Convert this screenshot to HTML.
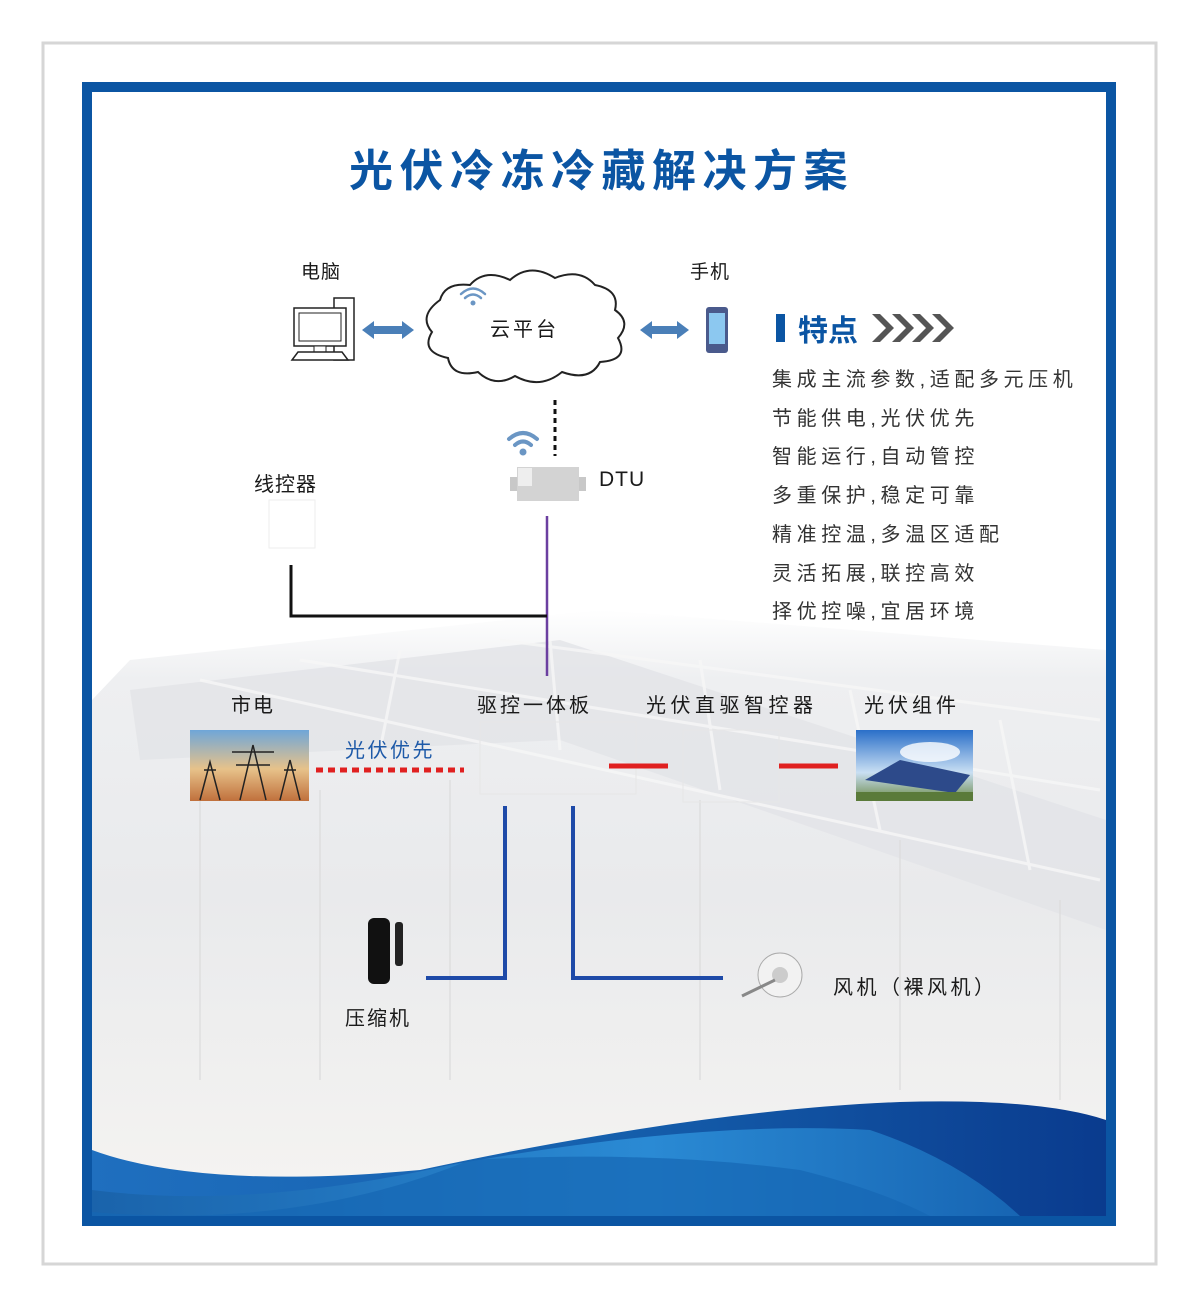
<!DOCTYPE html>
<html><head><meta charset="utf-8"><style>
body{margin:0;background:#fff;}
#c{position:relative;width:1199px;height:1308px;overflow:hidden;font-family:"Liberation Sans","Noto Sans CJK SC",sans-serif;}
.t{position:absolute;color:#1a1a1a;white-space:nowrap;}
</style></head><body><div id="c">
<svg width="1199" height="1308" style="position:absolute;left:0;top:0">
<defs>
<linearGradient id="bg" x1="0" y1="0" x2="0" y2="1">
<stop offset="0" stop-color="#fff"/><stop offset="0.12" stop-color="#eeeff1"/><stop offset="0.5" stop-color="#e9eaec"/><stop offset="1" stop-color="#f4f3f1"/></linearGradient>
<linearGradient id="w1" x1="0" y1="0" x2="1" y2="0"><stop offset="0" stop-color="#1f6fbf"/><stop offset="0.5" stop-color="#1560ad"/><stop offset="1" stop-color="#0a3b8e"/></linearGradient>
<linearGradient id="w2" x1="0" y1="0" x2="1" y2="0"><stop offset="0" stop-color="#1a63ab"/><stop offset="0.6" stop-color="#2a8ad4"/><stop offset="1" stop-color="#1765b3"/></linearGradient>
<linearGradient id="sky" x1="0" y1="0" x2="0" y2="1"><stop offset="0" stop-color="#6fa6d8"/><stop offset="0.55" stop-color="#e7c28a"/><stop offset="1" stop-color="#c0703c"/></linearGradient>
<linearGradient id="sky2" x1="0" y1="0" x2="0" y2="1"><stop offset="0" stop-color="#2a6fc8"/><stop offset="0.6" stop-color="#c9dff3"/><stop offset="1" stop-color="#6c8a4a"/></linearGradient>
</defs>
<rect x="43" y="43" width="1113" height="1221" fill="#fff" stroke="#d6d6d6" stroke-width="3"/>
<rect x="87" y="87" width="1024" height="1134" fill="#fff" stroke="#0b55a3" stroke-width="10"/>
<path d="M92 700 L130 660 L600 610 L1106 650 L1106 1180 L92 1180 Z" fill="url(#bg)"/>
<path d="M130 690 L560 640 L1106 820 L1106 930 L560 740 L140 760 Z" fill="#e2e3e7" opacity="0.8"/>
<g stroke="#f7f7f7" stroke-width="3" opacity="0.8">
<line x1="200" y1="680" x2="1100" y2="880"/><line x1="300" y1="660" x2="1100" y2="790"/><line x1="500" y1="640" x2="1100" y2="720"/>
<line x1="400" y1="650" x2="380" y2="750"/><line x1="550" y1="640" x2="560" y2="750"/><line x1="700" y1="660" x2="720" y2="790"/><line x1="850" y1="690" x2="880" y2="830"/><line x1="1000" y1="720" x2="1030" y2="870"/>
</g>
<g stroke="#dcdcdc" stroke-width="2" opacity="0.6">
<line x1="200" y1="790" x2="200" y2="1080"/><line x1="320" y1="790" x2="320" y2="1080"/><line x1="450" y1="780" x2="450" y2="1080"/><line x1="700" y1="800" x2="700" y2="1080"/><line x1="900" y1="840" x2="900" y2="1090"/><line x1="1060" y1="900" x2="1060" y2="1100"/>
</g>
<path d="M92 1150 Q200 1190 420 1170 Q700 1110 900 1102 Q1040 1098 1106 1120 L1106 1216 L92 1216 Z" fill="url(#w1)"/>
<path d="M92 1190 Q250 1210 450 1165 Q700 1120 870 1130 Q960 1160 1020 1216 L92 1216 Z" fill="url(#w2)"/>
<path d="M92 1212 Q300 1230 470 1160 Q650 1150 800 1170 Q880 1190 930 1216 L92 1216 Z" fill="#1666b4" opacity="0.7"/>
<g transform="translate(290,298)">
<rect x="44" y="0" width="20" height="62" fill="#fff" stroke="#222" stroke-width="1.5"/>
<rect x="4" y="10" width="52" height="38" fill="#fff" stroke="#222" stroke-width="1.5"/>
<rect x="9" y="15" width="42" height="28" fill="#fff" stroke="#222"/>
<rect x="24" y="48" width="12" height="6" fill="#fff" stroke="#222"/>
<path d="M2 62 L8 54 L52 54 L58 62 Z" fill="#fff" stroke="#222" stroke-width="1.5"/>
</g>
<g fill="#4a7fb8">
<path d="M362 330 L374 321 L374 326 L402 326 L402 321 L414 330 L402 339 L402 334 L374 334 L374 339 Z"/>
<path d="M640 330 L652 321 L652 326 L677 326 L677 321 L689 330 L677 339 L677 334 L652 334 L652 339 Z"/>
</g>
<path d="M440 300 Q445 282 470 285 Q485 268 510 280 Q530 262 555 278 Q580 268 595 285 Q620 290 615 310 Q632 322 618 338 Q630 360 600 362 Q590 382 562 372 Q540 390 515 376 Q495 388 478 372 Q452 378 448 358 Q420 352 432 332 Q418 316 440 300 Z" fill="#fff" stroke="#222" stroke-width="2"/>
<g fill="none" stroke="#6b96c4" stroke-width="2.5" stroke-linecap="round">
<path d="M465 298 Q473 291 481 298"/><path d="M461 294 Q473 283 485 294"/></g>
<circle cx="473" cy="303" r="2.5" fill="#6b96c4"/>
<rect x="706" y="307" width="22" height="46" rx="3" fill="#4a5a8c"/>
<rect x="709" y="313" width="16" height="31" fill="#8cc8f0"/>
<line x1="555" y1="400" x2="555" y2="456" stroke="#111" stroke-width="3" stroke-dasharray="5,4"/>
<g fill="none" stroke="#6b96c4" stroke-width="4" stroke-linecap="round">
<path d="M515 445 Q523 438 531 445"/><path d="M509 439 Q523 427 537 439"/></g>
<circle cx="523" cy="452" r="3.5" fill="#6b96c4"/>
<rect x="510" y="477" width="8" height="14" fill="#c8c8c8"/><rect x="578" y="477" width="8" height="14" fill="#c8c8c8"/>
<rect x="517" y="467" width="62" height="34" fill="#d3d3d3"/>
<rect x="518" y="468" width="14" height="18" fill="#eee"/>
<line x1="547" y1="516" x2="547" y2="676" stroke="#6b3fa0" stroke-width="2.5"/>
<polyline points="291,565 291,616 547,616" fill="none" stroke="#111" stroke-width="3"/>
<rect x="269" y="500" width="46" height="48" fill="#fff" stroke="#eee"/>
<rect x="480" y="722" width="156" height="72" fill="none" stroke="#e6e6e6"/>
<rect x="683" y="730" width="96" height="72" fill="none" stroke="#e6e6e6"/>
<rect x="190" y="730" width="119" height="71" fill="url(#sky)"/>
<g stroke="#222" stroke-width="1.5" fill="none">
<path d="M200 800 L210 762 L220 800 M204 770 L216 770"/><path d="M240 800 L253 745 L266 800 M232 752 L274 752 M236 765 L270 765"/><path d="M280 800 L290 760 L300 800 M284 770 L296 770"/>
</g>
<line x1="316" y1="770" x2="464" y2="770" stroke="#e02020" stroke-width="5" stroke-dasharray="7,5"/>
<line x1="609" y1="766" x2="668" y2="766" stroke="#e02020" stroke-width="5"/>
<line x1="779" y1="766" x2="838" y2="766" stroke="#e02020" stroke-width="5"/>
<rect x="856" y="730" width="117" height="71" fill="url(#sky2)"/>
<ellipse cx="930" cy="752" rx="30" ry="10" fill="#fff" opacity="0.8"/>
<path d="M865 780 L900 760 L970 775 L955 793 Z" fill="#2d4a8a"/>
<rect x="856" y="792" width="117" height="9" fill="#5a7a3a"/>
<polyline points="505,806 505,978 426,978" fill="none" stroke="#1e4aa8" stroke-width="4"/>
<polyline points="573,806 573,978 723,978" fill="none" stroke="#1e4aa8" stroke-width="4"/>
<rect x="368" y="918" width="22" height="66" rx="6" fill="#111"/>
<rect x="395" y="922" width="8" height="44" rx="3" fill="#222"/>
<circle cx="780" cy="975" r="22" fill="#f2f2f2" stroke="#aaa"/>
<circle cx="780" cy="975" r="8" fill="#ccc"/>
<line x1="742" y1="996" x2="775" y2="980" stroke="#888" stroke-width="3"/>
<rect x="776" y="314" width="9" height="28" fill="#0b55a3"/>
<g fill="#555"><path d="M872 314 L886 328 L872 342 L880 342 L894 328 L880 314 Z"/><path d="M892 314 L906 328 L892 342 L900 342 L914 328 L900 314 Z"/><path d="M912 314 L926 328 L912 342 L920 342 L934 328 L920 314 Z"/><path d="M932 314 L946 328 L932 342 L940 342 L954 328 L940 314 Z"/></g>
</svg>
<div class="t" style="left:349px;top:135px;font-size:44px;font-weight:bold;color:#0b55a3;letter-spacing:6.5px">光伏冷冻冷藏解决方案</div>
<div class="t" style="left:301px;top:257px;font-size:19px;letter-spacing:1px">电脑</div>
<div class="t" style="left:690px;top:257px;font-size:19px;letter-spacing:1px">手机</div>
<div class="t" style="left:490px;top:313px;font-size:20px;letter-spacing:3px">云平台</div>
<div class="t" style="left:599px;top:468px;font-size:21px;letter-spacing:1px">DTU</div>
<div class="t" style="left:254px;top:468px;font-size:20px;letter-spacing:1px">线控器</div>
<div class="t" style="left:798px;top:306px;font-size:30px;font-weight:bold;color:#0b55a3">特点</div>
<div class="t" style="left:772px;top:361px;font-size:20px;line-height:38.7px;color:#333;letter-spacing:4.6px">集成主流参数,适配多元压机<br>节能供电,光伏优先<br>智能运行,自动管控<br>多重保护,稳定可靠<br>精准控温,多温区适配<br>灵活拓展,联控高效<br>择优控噪,宜居环境</div>
<div class="t" style="left:231px;top:689px;font-size:20px;letter-spacing:2px">市电</div>
<div class="t" style="left:477px;top:689px;font-size:20px;letter-spacing:3px">驱控一体板</div>
<div class="t" style="left:646px;top:689px;font-size:20px;letter-spacing:4.5px">光伏直驱智控器</div>
<div class="t" style="left:864px;top:689px;font-size:20px;letter-spacing:4px">光伏组件</div>
<div class="t" style="left:345px;top:734px;font-size:20px;color:#1e5aa8;letter-spacing:2.5px">光伏优先</div>
<div class="t" style="left:345px;top:1002px;font-size:20px;letter-spacing:2px">压缩机</div>
<div class="t" style="left:833px;top:971px;font-size:20px;letter-spacing:3.5px">风机（裸风机）</div>
</div></body></html>
